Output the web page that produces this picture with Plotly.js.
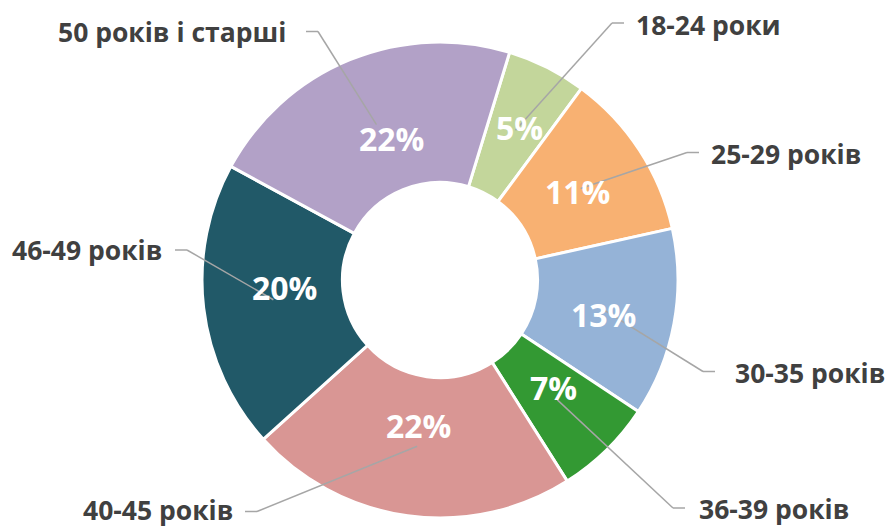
<!DOCTYPE html>
<html><head><meta charset="utf-8">
<script src="https://cdn.plot.ly/plotly-3.0.1.min.js"></script>
<style>html,body{margin:0;padding:0;background:#fff}</style>
</head><body><div id="chart" style="width:889px;height:527px"></div>
<script>
// ---- data ----
const categories = ['18-24 роки', '25-29 років', '30-35 років', '36-39 років', '40-45 років', '46-49 років', '50 років і старші'];
const shares = [5.4, 11.4, 12.8, 6.7, 22.3, 19.6, 21.8];
const colors = ['#c3d69b', '#f8b172', '#95b3d7', '#339933', '#d99694', '#215968', '#b2a1c7'];

// ---- layout / style ----
const W = 889, H = 527, CX = 440, CY = 280, R = 238, HOLE = 0.41, ROT = 17;
// outside label placement: [elbowX, elbowY, textEdgeX, textYNudge]
const labelPlace = [[612, 23, 634, 1.5], [687, 152.5, 709, 1], [703, 371.5, 733, 1.5], [673, 508, 697, 1], [257, 511.5, 235, -1.5], [187, 250, 164, 0], [318, 31.5, 288, 0.5]];
// small pixel nudges of the percentage texts
const pctShift = [[4.5, -3], [-3, 2.5], [-1, 4], [-4, -12], [1, -21], [11.5, -12], [15.5, 14]];
const SEG = 12;
const lineColor = '#a6a6a6';

const px = x => x / W, py = y => 1 - y / H;
const total = shares.reduce((a, b) => a + b, 0);

const annotations = [], shapes = [];
let acc = ROT;
shares.forEach((v, i) => {
  const span = v / total * 360;
  const mid = (acc + span / 2) * Math.PI / 180;
  acc += span;
  const rm = R * (1 + HOLE) / 2;
  const mx = CX + rm * Math.sin(mid), my = CY - rm * Math.cos(mid);
  const [ex, ey, tx, tn] = labelPlace[i];
  const side = tx > ex ? 1 : -1;
  shapes.push({type: 'line', xref: 'paper', yref: 'paper', x0: px(mx), y0: py(my), x1: px(ex), y1: py(ey), line: {color: lineColor, width: 1.5}});
  shapes.push({type: 'line', xref: 'paper', yref: 'paper', x0: px(ex), y0: py(ey), x1: px(ex + side * SEG), y1: py(ey), line: {color: lineColor, width: 1.5}});
  annotations.push({xref: 'paper', yref: 'paper', x: px(tx), y: py(ey + tn), xanchor: side > 0 ? 'left' : 'right', yanchor: 'middle',
    text: categories[i], showarrow: false, font: {family: 'Open Sans', size: 26.5, weight: 700, color: '#404040'}});
  annotations.push({xref: 'paper', yref: 'paper', x: px(mx + pctShift[i][0]), y: py(my + pctShift[i][1]), xanchor: 'center', yanchor: 'middle',
    text: Math.round(v / total * 100) + '%', showarrow: false, font: {family: 'Open Sans', size: 32, weight: 700, color: '#ffffff'}});
});

const trace = {
  type: 'pie', labels: categories, values: shares, sort: false, direction: 'clockwise', rotation: ROT,
  hole: HOLE, textinfo: 'none', hoverinfo: 'skip', showlegend: false,
  marker: {colors: colors, line: {color: '#ffffff', width: 3}},
  domain: {x: [(CX - R) / W, (CX + R) / W], y: [py(CY + R), py(CY - R)]}
};

Plotly.newPlot('chart', [trace], {
  width: W, height: H, margin: {l: 0, r: 0, t: 0, b: 0},
  paper_bgcolor: '#ffffff', plot_bgcolor: '#ffffff',
  shapes: shapes, annotations: annotations
}, {staticPlot: true});
</script></body></html>
